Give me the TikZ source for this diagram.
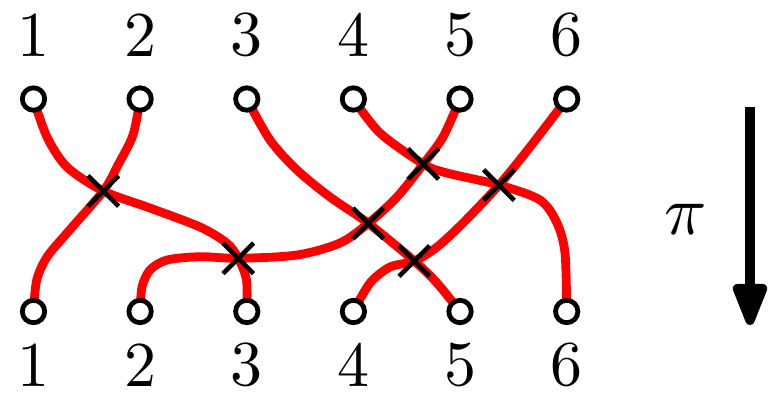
\documentclass[tikz,border=0pt]{standalone}
\usetikzlibrary{arrows.meta,shapes.misc}
\pgfdeclarelayer{bg}
\pgfsetlayers{bg,main}
\begin{document}
\begin{tikzpicture}[x=0.5pt,y=-0.5pt,
 dot/.style={circle,draw=black,line width=2.4pt,fill=white,minimum size=11.2pt,inner sep=0pt},
 xmark/.style={cross out,draw=black,line width=2.3pt,minimum size=13pt,inner sep=0pt},
 strand/.style={red,line width=4.4pt,line cap=round},
 lab/.style={scale=3.2,inner sep=0pt}]
\useasboundingbox (0,0) rectangle (772,393);
\foreach \i/\x in {1/33.5,2/140.1,3/246.8,4/353.4,5/460,6/566.7} {
  \node[dot] (t\i) at (\x,99) {};
  \node[dot] (b\i) at (\x,311.5) {};
  \node[lab] (lt\i) at (\x,35) {\i};
  \node[lab] (lb\i) at (\x,365) {\i};
}
\node[xmark] (A) at (103.3,191) {};
\node[xmark] (B) at (238.3,258.3) {};
\node[xmark] (C) at (368.3,223.3) {};
\node[xmark] (D) at (423.3,164) {};
\node[xmark] (E) at (499,185) {};
\node[xmark] (F) at (414.3,261) {};
\begin{pgfonlayer}{bg}
\draw[strand] plot[smooth] coordinates {(t1.center) (47,137) (67,167) (A.center) (150,208) (200,227) (226.7,243) (B.center) (246.5,280) (b3.center)};
\draw[strand] plot[smooth] coordinates {(t2.center) (133,135) (118,165) (A.center) (67,233) (47,257) (36.7,280) (b1.center)};
\draw[strand] plot[smooth] coordinates {(t3.center) (270,140) (297,170) (330,197) (C.center) (F.center) (437,283) (b5.center)};
\draw[strand] plot[smooth] coordinates {(t4.center) (380,133) (D.center) (447,173) (E.center) (540,200) (557,223) (565,253) (b6.center)};
\draw[strand] plot[smooth] coordinates {(t5.center) (443,137) (D.center) (397,197) (C.center) (340,243) (297,255) (B.center) (200,256.7) (167,260) (150,270) (142,287) (b2.center)};
\draw[strand] plot[smooth] coordinates {(t6.center) (530,147) (E.center) (463,223) (437,247) (F.center) (390,267) (370,283) (b4.center)};
\end{pgfonlayer}
\coordinate (ps) at (750,107);
\coordinate (pe) at (750,325);
\draw[line width=4.6pt,-{Triangle[length=25pt,width=18pt,round]}] (ps) -- (pe);
\node[scale=3.5,inner sep=0pt] (pi) at (686,219) {$\pi$};
\end{tikzpicture}
\end{document}
